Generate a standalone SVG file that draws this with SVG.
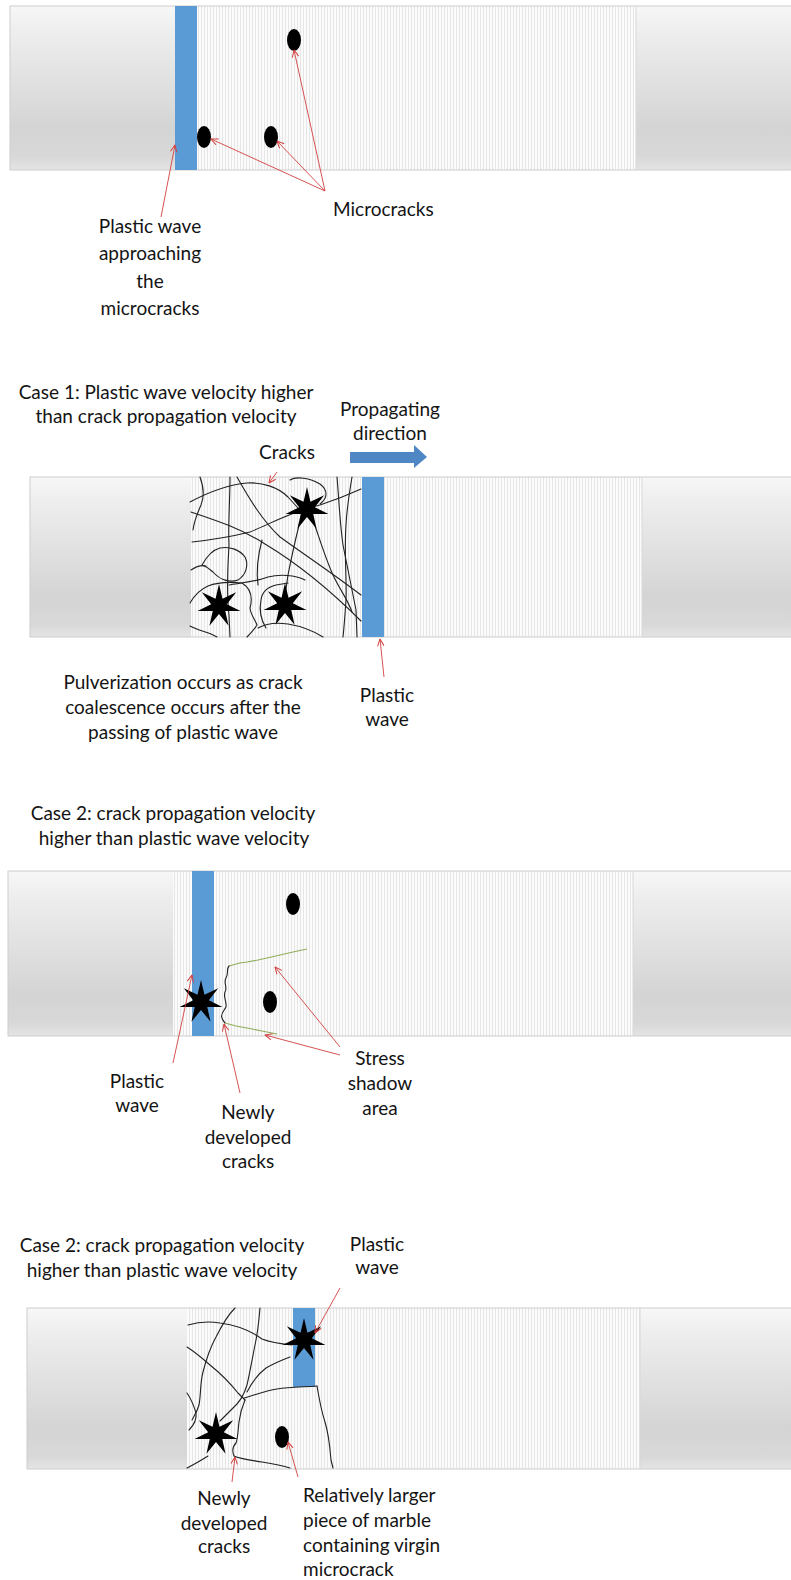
<svg xmlns="http://www.w3.org/2000/svg" xmlns:xlink="http://www.w3.org/1999/xlink" width="791" height="1580" viewBox="0 0 791 1580">
  <defs>
    <style>
      .lbl { font-family: Lato, "Liberation Sans", sans-serif; font-size: 19px; fill: #141414; }
      .mid { text-anchor: middle; }
      .frame { fill: none; stroke: #cdcdcd; stroke-width: 1; }
      .end { fill: url(#endShade); }
      .body { fill: url(#grain); }
      .wave { fill: #5b9bd5; }
      .pore { fill: #000; }
      .crack { fill: none; stroke: #222; stroke-width: 1.1; stroke-linejoin: round; stroke-linecap: round; }
      .shadow { fill: none; stroke: #8fae5c; stroke-width: 1.1; }
      .lead { fill: none; stroke: #d2403f; stroke-width: 0.9; marker-end: url(#tip); }
    </style>
    <linearGradient id="endShade" x1="0" y1="0" x2="0" y2="1">
      <stop offset="0" stop-color="#f7f7f7"/>
      <stop offset="0.15" stop-color="#eeeeee"/>
      <stop offset="0.75" stop-color="#d4d4d4"/>
      <stop offset="0.92" stop-color="#d8d8d8"/>
      <stop offset="1" stop-color="#e4e4e4"/>
    </linearGradient>
    <pattern id="grain" width="3" height="10" patternUnits="userSpaceOnUse">
      <rect width="3" height="10" fill="#fbfbfb"/>
      <rect x="0" width="1" height="10" fill="#e6e6e6"/>
    </pattern>
    <marker id="tip" viewBox="0 0 8 8" refX="7.5" refY="4" markerWidth="8" markerHeight="8" markerUnits="userSpaceOnUse" orient="auto">
      <path d="M0.5,0.8 L7.5,4 L0.5,7.2" fill="none" stroke="#d2403f" stroke-width="1"/>
    </marker>
    <path id="burst" d="M0,-22 L3.47,-7.21 L17.2,-13.72 L7.8,-1.78 L21.45,4.9 L6.25,4.99 L9.55,19.82 L0,8 L-9.55,19.82 L-6.25,4.99 L-21.45,4.9 L-7.8,-1.78 L-17.2,-13.72 L-3.47,-7.21 Z" fill="#000"/>
  </defs>

  <!-- Bar 1: wave approaching the microcracks -->
  <g id="bar-approach">
    <rect class="end" x="10" y="6" width="165" height="164"/>
    <rect class="body" x="175" y="6" width="461" height="164"/>
    <rect class="end" x="636" y="6" width="160" height="164"/>
    <rect class="frame" x="10" y="6" width="790" height="164"/>
    <line x1="636" y1="6" x2="636" y2="170" stroke="#d8d8d8"/>
    <rect class="wave" x="175" y="6" width="22" height="164"/>
    <ellipse class="pore" cx="294" cy="40" rx="7" ry="11"/>
    <ellipse class="pore" cx="204" cy="137" rx="7" ry="11"/>
    <ellipse class="pore" cx="271" cy="137" rx="7" ry="11"/>
  </g>
  <g id="label-approach">
    <text class="lbl mid" x="150" y="233">Plastic wave</text>
    <text class="lbl mid" x="150" y="260">approaching</text>
    <text class="lbl mid" x="150" y="288">the</text>
    <text class="lbl mid" x="150" y="315">microcracks</text>
  </g>
  <g id="label-microcracks">
    <text class="lbl" x="333" y="216">Microcracks</text>
  </g>

  <!-- Case 1 -->
  <g id="title-case1">
    <text class="lbl mid" x="166" y="399">Case 1: Plastic wave velocity higher</text>
    <text class="lbl mid" x="166" y="423">than crack propagation velocity</text>
  </g>
  <g id="direction">
    <text class="lbl mid" x="390" y="416">Propagating</text>
    <text class="lbl mid" x="390" y="440">direction</text>
    <polygon points="350,452 414,452 414,445 427,457 414,468 414,463 350,463" fill="#4f86c4"/>
  </g>
  <g id="label-cracks">
    <text class="lbl mid" x="287" y="459">Cracks</text>
  </g>
  <g id="bar-case1">
    <rect class="end" x="30" y="477" width="161" height="160"/>
    <rect class="body" x="191" y="477" width="451" height="160"/>
    <rect class="end" x="642" y="477" width="160" height="160"/>
    <rect class="frame" x="30" y="477" width="770" height="160"/>
    <line x1="642" y1="477" x2="642" y2="637" stroke="#d8d8d8"/>
    <g id="crack-net-1">
      <path class="crack" d="M190,502 C205,494 225,485 247,483 C262,482 278,487 288,497 L298,508"/>
      <path class="crack" d="M191,512 C215,520 240,528 265,544 C295,562 330,590 361,621"/>
      <path class="crack" d="M237,477 C250,500 262,520 280,537 C305,555 335,575 361,595"/>
      <path class="crack" d="M192,542 C210,540 230,537 250,532 C270,524 290,512 320,505 C335,500 350,494 361,489"/>
      <path class="crack" d="M230,477 C230,500 228,525 229,545 C228,565 226,590 229,615 L230,637"/>
      <path class="crack" d="M200,477 C203,485 205,495 201,505 C197,514 194,522 193,530"/>
      <path class="crack" d="M300,522 C295,540 291,560 288,575 C286,590 284,600 283,610"/>
      <path class="crack" d="M290,480 C296,476 310,478 320,484 C328,490 328,498 320,504"/>
      <path class="crack" d="M337,477 C339,500 340,525 343,545 C347,565 352,590 356,610 L357,637"/>
      <path class="crack" d="M352,477 C350,490 347,505 346,525 C344,555 347,580 346,600 C345,615 344,628 343,637"/>
      <path class="crack" d="M313,520 C320,540 326,560 333,575 C340,590 348,600 352,612"/>
      <path class="crack" d="M202,565 C207,556 212,550 220,548 C230,546 240,550 245,557 C249,565 246,575 238,580 C230,583 220,580 213,572 C209,568 205,566 202,565"/>
      <path class="crack" d="M190,603 C194,596 199,590 208,586 C218,582 232,582 242,583 C250,588 253,597 250,608 C251,616 256,621 257,625 C254,630 250,634 247,637"/>
      <path class="crack" d="M266,628 C261,620 259,610 261,600 C262,592 268,587 276,585 L288,583"/>
      <path class="crack" d="M258,628 C265,624 275,622 288,624 C300,626 312,630 323,637"/>
      <path class="crack" d="M190,626 C195,629 203,631 211,634 L217,637"/>
      <path class="crack" d="M229,585 C240,583 255,582 268,577 C280,574 295,575 305,580"/>
      <path class="crack" d="M191,570 C197,566 202,565 206,566"/>
      <path class="crack" d="M262,540 C258,555 256,570 258,585"/>
    </g>
    <use href="#burst" x="307" y="509"/>
    <use href="#burst" x="219" y="606"/>
    <use href="#burst" x="285" y="605"/>
    <rect class="wave" x="362" y="477" width="22" height="160"/>
  </g>
  <g id="label-pulverization">
    <text class="lbl mid" x="183" y="689">Pulverization occurs as crack</text>
    <text class="lbl mid" x="183" y="714">coalescence occurs after the</text>
    <text class="lbl mid" x="183" y="739">passing of plastic wave</text>
  </g>
  <g id="label-wave-case1">
    <text class="lbl mid" x="387" y="702">Plastic</text>
    <text class="lbl mid" x="387" y="726">wave</text>
  </g>

  <!-- Case 2, early stage -->
  <g id="title-case2a">
    <text class="lbl mid" x="173" y="820">Case 2: crack propagation velocity</text>
    <text class="lbl mid" x="174" y="845">higher than plastic wave velocity</text>
  </g>
  <g id="bar-case2a">
    <rect class="end" x="8" y="871" width="165" height="165"/>
    <rect class="body" x="173" y="871" width="460" height="165"/>
    <rect class="end" x="633" y="871" width="165" height="165"/>
    <rect class="frame" x="8" y="871" width="792" height="165"/>
    <line x1="633" y1="871" x2="633" y2="1036" stroke="#d8d8d8"/>
    <rect class="wave" x="192" y="871" width="22" height="165"/>
    <ellipse class="pore" cx="293" cy="904" rx="7" ry="11"/>
    <ellipse class="pore" cx="270" cy="1002" rx="7" ry="11"/>
    <path class="shadow" d="M229,966 L240,963 L247,962 L258,960 L267,958 L280,955 L293,952 L307,949"/>
    <path class="crack" d="M229,966 C226,969 229,973 226,978 C223,983 228,987 225,992 C223,997 227,1002 226,1007 C224,1011 220,1014 222,1018 C223,1021 224,1022 225,1023"/>
    <path class="shadow" d="M225,1023 L236,1026 L247,1028 L262,1031 L277,1034"/>
    <use href="#burst" x="201" y="1002"/>
  </g>
  <g id="label-wave-case2a">
    <text class="lbl mid" x="137" y="1088">Plastic</text>
    <text class="lbl mid" x="137" y="1112">wave</text>
  </g>
  <g id="label-new-cracks-a">
    <text class="lbl mid" x="248" y="1119">Newly</text>
    <text class="lbl mid" x="248" y="1144">developed</text>
    <text class="lbl mid" x="248" y="1168">cracks</text>
  </g>
  <g id="label-stress-shadow">
    <text class="lbl mid" x="380" y="1065">Stress</text>
    <text class="lbl mid" x="380" y="1090">shadow</text>
    <text class="lbl mid" x="380" y="1115">area</text>
  </g>

  <!-- Case 2, later stage -->
  <g id="title-case2b">
    <text class="lbl mid" x="162" y="1252">Case 2: crack propagation velocity</text>
    <text class="lbl mid" x="162" y="1277">higher than plastic wave velocity</text>
  </g>
  <g id="label-wave-case2b">
    <text class="lbl mid" x="377" y="1251">Plastic</text>
    <text class="lbl mid" x="377" y="1274">wave</text>
  </g>
  <g id="bar-case2b">
    <rect class="end" x="27" y="1308" width="160" height="161"/>
    <rect class="body" x="187" y="1308" width="453" height="161"/>
    <rect class="end" x="640" y="1308" width="160" height="161"/>
    <rect class="frame" x="27" y="1308" width="773" height="161"/>
    <line x1="640" y1="1308" x2="640" y2="1469" stroke="#d8d8d8"/>
    <rect class="wave" x="293" y="1308" width="22" height="79"/>
    <g id="crack-net-2">
      <path class="crack" d="M188,1325 C198,1322 208,1321 220,1323 C235,1325 250,1330 262,1339 C272,1343 282,1344 292,1345"/>
      <path class="crack" d="M235,1308 C228,1315 222,1325 216,1337 C210,1348 206,1360 203,1372 C200,1383 201,1395 199,1405 C197,1412 194,1416 192,1420"/>
      <path class="crack" d="M260,1308 C259,1320 258,1332 255,1345 C252,1360 250,1372 247,1385 C244,1395 240,1402 233,1408 C228,1413 224,1417 220,1421"/>
      <path class="crack" d="M187,1347 C195,1352 202,1358 210,1365 C220,1373 230,1383 238,1393 L245,1400"/>
      <path class="crack" d="M244,1398 C255,1395 265,1391 277,1389 C290,1387 305,1387 317,1386"/>
      <path class="crack" d="M317,1386 C319,1398 321,1410 325,1422 C329,1435 330,1448 331,1460 L333,1468"/>
      <path class="crack" d="M290,1357 C282,1360 273,1364 266,1368 C258,1374 252,1382 247,1392"/>
      <path class="crack" d="M245,1400 C242,1407 240,1414 239,1422 C238,1430 238,1438 236,1443 C232,1447 232,1451 234,1456 C240,1459 250,1460 262,1462 C275,1464 284,1466 290,1468"/>
      <path class="crack" d="M187,1393 C191,1399 194,1406 196,1413 C197,1420 193,1426 189,1430"/>
      <path class="crack" d="M187,1468 C193,1465 200,1461 208,1456"/>
    </g>
    <use href="#burst" x="304" y="1340"/>
    <use href="#burst" x="216" y="1434"/>
    <ellipse class="pore" cx="282" cy="1437" rx="7" ry="11"/>
  </g>
  <g id="label-new-cracks-b">
    <text class="lbl mid" x="224" y="1505">Newly</text>
    <text class="lbl mid" x="224" y="1530">developed</text>
    <text class="lbl mid" x="224" y="1553">cracks</text>
  </g>
  <g id="label-larger-piece">
    <text class="lbl" x="303" y="1502">Relatively larger</text>
    <text class="lbl" x="303" y="1527">piece of marble</text>
    <text class="lbl" x="303" y="1552">containing virgin</text>
    <text class="lbl" x="303" y="1576">microcrack</text>
  </g>

  <!-- Leader arrows -->
  <g id="connectors">
    <line class="lead" x1="161" y1="217" x2="175" y2="145"/>
    <line class="lead" x1="325" y1="191" x2="294" y2="50"/>
    <line class="lead" x1="325" y1="191" x2="211" y2="139"/>
    <line class="lead" x1="325" y1="191" x2="277" y2="141"/>
    <line class="lead" x1="277" y1="472" x2="269" y2="483"/>
    <line class="lead" x1="384" y1="677" x2="380" y2="639"/>
    <line class="lead" x1="173" y1="1063" x2="192" y2="975"/>
    <line class="lead" x1="240" y1="1093" x2="224" y2="1024"/>
    <line class="lead" x1="340" y1="1047" x2="275" y2="967"/>
    <line class="lead" x1="340" y1="1055" x2="265" y2="1035"/>
    <line class="lead" x1="340" y1="1288" x2="315" y2="1333"/>
    <line class="lead" x1="232" y1="1482" x2="235" y2="1457"/>
    <line class="lead" x1="298" y1="1477" x2="288" y2="1442"/>
  </g>
</svg>
